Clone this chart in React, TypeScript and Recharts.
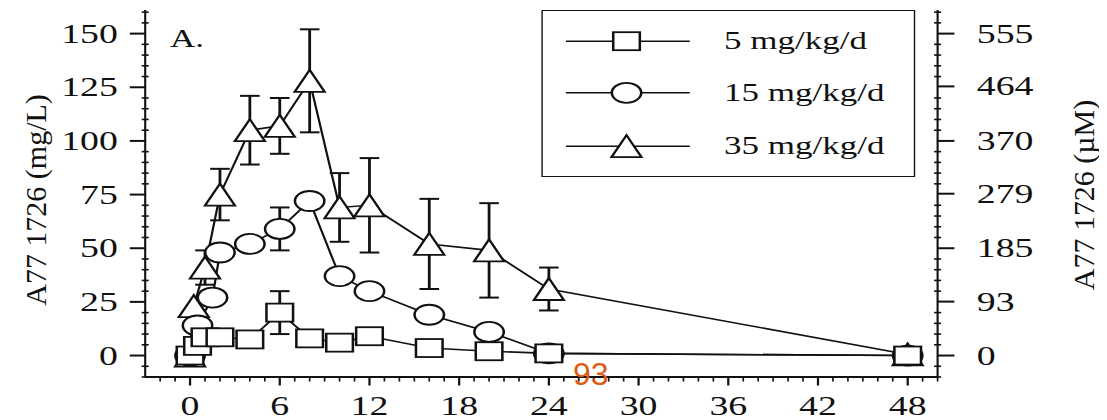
import React from 'react';
import { LineChart, Line, XAxis, YAxis, ErrorBar, Legend } from 'recharts';

// ---------- data ----------
const hours5 = [0, 0.5, 1, 2, 4, 6, 8, 10, 12, 16, 20, 24, 48];
const conc5 = [0, 4.5, 8.5, 8.5, 7.5, 20, 8, 6, 9, 3.5, 2, 1, 0];
const err5 = [0, 0, 0, 0, 0, 10, 0, 0, 0, 0, 0, 0, 0];

const hours15 = [0, 0.5, 1.5, 2, 4, 6, 8, 10, 12, 16, 20, 24, 48];
const conc15 = [0, 14, 27, 48, 52, 59, 72, 37, 30, 19, 11, 1, 0];
const err15 = [0, 0, 0, 0, 0, 10, 0, 0, 0, 0, 0, 0, 0];

const hours35 = [0, 0.25, 1, 2, 4, 6, 8, 10, 12, 16, 20, 24, 48];
const conc35 = [0, 23, 41, 75, 105, 107, 128, 69, 70, 52, 49, 31, 0.5];
const err35 = [0, 0, 8, 12, 16, 13, 24, 16, 22, 21, 22, 10, 0];

const seriesNames = ['5 mg/kg/d', '15 mg/kg/d', '35 mg/kg/d'];
const seriesShapes = ['square', 'circle', 'triangle'];

const xMajorTicks = [0, 6, 12, 18, 24, 30, 36, 42, 48];
const leftMajorTicks = [0, 25, 50, 75, 100, 125, 150];
const rightMajorTicks = [0, 93, 185, 279, 370, 464, 555];
const MG_TO_UM = 3.7;

const leftTitle = 'A77 1726 (mg/L)';
const rightTitle = 'A77 1726 (\u00b5M)';
const panelTag = 'A.';
const stray = '93';

// ---------- layout / style ----------
const SX = 1.4; // the reference figure is horizontally stretched
const W = 785;
const H = 412;
const INK = '#111';
const FONT = '"Liberation Serif", "Times New Roman", serif';
const X_DOMAIN: [number, number] = [-3, 50];
const Y_DOMAIN: [number, number] = [-10, 161];
const R_DOMAIN: [number, number] = [Y_DOMAIN[0] * MG_TO_UM, Y_DOMAIN[1] * MG_TO_UM];

const build = (h: number[], c: number[], e: number[]) =>
  h.map((t, i) => ({ t, c: c[i], e: e[i] }));
const data5 = build(hours5, conc5, err5);
const data15 = build(hours15, conc15, err15);
const data35 = build(hours35, conc35, err35);

const xAllTicks = Array.from({ length: 53 }, (_, i) => i - 2);
const leftAllTicks = Array.from({ length: 35 }, (_, i) => -10 + 5 * i);
const rightAllTicks = [
  ...Array.from({ length: 35 }, (_, i) => i - 2)
    .filter((k) => k % 5 !== 0)
    .map((k) => k * 5 * MG_TO_UM),
  ...rightMajorTicks,
].sort((a, b) => a - b);

// ---------- markers ----------
const markerStroke = 1.8;
const drawMarker = (shape: string, cx: number, cy: number, key?: any) => {
  if (shape === 'square')
    return (
      <rect key={key} x={cx - 9.5} y={cy - 9} width={19} height={18} fill="#fff" stroke={INK} strokeWidth={markerStroke} />
    );
  if (shape === 'circle')
    return <ellipse key={key} cx={cx} cy={cy} rx={10.5} ry={10} fill="#fff" stroke={INK} strokeWidth={markerStroke} />;
  return (
    <polygon
      key={key}
      points={`${cx},${cy - 11} ${cx - 10.7},${cy + 11} ${cx + 10.7},${cy + 11}`}
      fill="#fff"
      stroke={INK}
      strokeWidth={markerStroke}
      strokeLinejoin="miter"
    />
  );
};
const dotFor = (shape: string) => (p: any) => drawMarker(shape, p.cx, p.cy, `${shape}-${p.index}`);

// ---------- ticks ----------
const XTick = (p: any) => {
  const v = p.payload.value;
  const major = xMajorTicks.includes(v);
  return (
    <g>
      <line x1={p.x} x2={p.x} y1={p.y} y2={p.y + (major ? 8.5 : 4.5)} stroke={INK} strokeWidth={major ? 1.6 : 1.2} />
      {major && (
        <text x={p.x} y={p.y + 38.5} textAnchor="middle" fontSize={27} fontFamily={FONT} fill={INK}>
          {v}
        </text>
      )}
    </g>
  );
};

const LeftTick = (p: any) => {
  const v = p.payload.value;
  const major = leftMajorTicks.includes(v);
  return (
    <g>
      <line x1={p.x - (major ? 11 : 2.5)} x2={p.x + (major ? 0 : 2.5)} y1={p.y} y2={p.y} stroke={INK} strokeWidth={major ? 2 : 1.6} />
      {major && (
        <text x={p.x - 19.5} y={p.y + 9} textAnchor="end" fontSize={27} fontFamily={FONT} fill={INK}>
          {v}
        </text>
      )}
    </g>
  );
};

const RightTick = (p: any) => {
  const v = p.payload.value;
  const major = rightMajorTicks.includes(v);
  return (
    <g>
      <line x1={p.x - (major ? 0 : 2.5)} x2={p.x + (major ? 12 : 2.5)} y1={p.y} y2={p.y} stroke={INK} strokeWidth={major ? 2 : 1.6} />
      {major && (
        <text x={p.x + 28} y={p.y + 9} textAnchor="start" fontSize={27} fontFamily={FONT} fill={INK}>
          {v}
        </text>
      )}
    </g>
  );
};

// axis titles are drawn un-stretched (counter-scaled)
const titleRenderer = (text: string, cx: number, cy: number) => () =>
  (
    <text
      transform={`translate(${cx},${cy}) scale(${1 / SX},1) rotate(-90)`}
      textAnchor="middle"
      dominantBaseline="central"
      fontSize={30}
      fontFamily={FONT}
      fill={INK}
    >
      {text}
    </text>
  );

// ---------- legend ----------
const LegendBox = (props: any) => {
  const payload = (props.payload || []).slice().sort(
    (a: any, b: any) => seriesNames.indexOf(a.value) - seriesNames.indexOf(b.value)
  );
  const rows = [30.2, 81.8, 135.2];
  return (
    <div
      style={{
        width: 267,
        height: 167,
        border: `1.6px solid ${INK}`,
        boxSizing: 'border-box',
        background: '#fff',
        position: 'relative',
      }}
    >
      <svg width={264} height={164} style={{ position: 'absolute', left: 0, top: 0, overflow: 'visible' }}>
        {payload.map((entry: any, i: number) => {
          const y = rows[i];
          const shape = seriesShapes[seriesNames.indexOf(entry.value)];
          return (
            <g key={entry.value}>
              <line x1={16.5} x2={105} y1={y} y2={y} stroke={INK} strokeWidth={1.6} />
              {drawMarker(shape, 59.8, y)}
              <text x={129.5} y={y + 8.3} fontSize={25} fontFamily={FONT} fill={INK}>
                {entry.value}
              </text>
            </g>
          );
        })}
      </svg>
    </div>
  );
};

export default function App() {
  return (
    <div style={{ position: 'relative', width: W * SX, height: H, overflow: 'hidden', background: '#fff' }}>
      <div
        style={{
          position: 'absolute',
          left: 0,
          top: 0,
          width: W,
          height: H,
          transform: `scaleX(${SX})`,
          transformOrigin: '0 0',
        }}
      >
        <LineChart width={W} height={H} margin={{ top: 2, right: 0, bottom: 0, left: 0 }}>
          <XAxis
            type="number"
            dataKey="t"
            domain={X_DOMAIN}
            allowDataOverflow
            ticks={xAllTicks}
            interval={0}
            height={43}
            tickSize={0}
            tickMargin={0}
            tickLine={false}
            tick={<XTick />}
            axisLine={{ stroke: INK, strokeWidth: 2 }}
          />
          <YAxis
            yAxisId="left"
            type="number"
            domain={Y_DOMAIN}
            allowDataOverflow
            ticks={leftAllTicks}
            interval={0}
            width={98}
            tickSize={0}
            tickMargin={0}
            tickLine={false}
            tick={<LeftTick />}
            axisLine={{ stroke: INK, strokeWidth: 1.5 }}
            label={titleRenderer(leftTitle, 19.3, 192)}
          />
          <YAxis
            yAxisId="right"
            orientation="right"
            type="number"
            domain={R_DOMAIN}
            allowDataOverflow
            ticks={rightAllTicks}
            interval={0}
            width={121}
            tickSize={0}
            tickMargin={0}
            tickLine={false}
            tick={<RightTick />}
            axisLine={{ stroke: INK, strokeWidth: 1.5 }}
            label={titleRenderer(rightTitle, 767.9, 187)}
          />
          <Legend
            verticalAlign="middle"
            align="center"
            layout="horizontal"
            wrapperStyle={{ position: 'absolute', left: 381, top: 2, width: 267, height: 167 }}
            content={<LegendBox />}
          />
          <Line
            yAxisId="left"
            name={seriesNames[2]}
            data={data35}
            dataKey="c"
            stroke={INK}
            strokeWidth={1.6}
            dot={dotFor('triangle')}
            activeDot={false}
            isAnimationActive={false}
          >
            <ErrorBar dataKey="e" direction="y" width={7} stroke={INK} strokeWidth={2} isAnimationActive={false} />
          </Line>
          <Line
            yAxisId="left"
            name={seriesNames[1]}
            data={data15}
            dataKey="c"
            stroke={INK}
            strokeWidth={1.6}
            dot={dotFor('circle')}
            activeDot={false}
            isAnimationActive={false}
          >
            <ErrorBar dataKey="e" direction="y" width={7} stroke={INK} strokeWidth={2} isAnimationActive={false} />
          </Line>
          <Line
            yAxisId="left"
            name={seriesNames[0]}
            data={data5}
            dataKey="c"
            stroke={INK}
            strokeWidth={1.6}
            dot={dotFor('square')}
            activeDot={false}
            isAnimationActive={false}
          >
            <ErrorBar dataKey="e" direction="y" width={7} stroke={INK} strokeWidth={2} isAnimationActive={false} />
          </Line>
        </LineChart>
        <div
          style={{
            position: 'absolute',
            left: 115.7,
            top: 18,
            fontSize: 25,
            lineHeight: '25px',
            fontFamily: FONT,
            color: INK,
          }}
        >
          {panelTag}
        </div>
      </div>
      <div
        style={{
          position: 'absolute',
          left: 565,
          top: 350,
          fontSize: 32,
          lineHeight: '32px',
          fontFamily: '"Liberation Sans", Arial, sans-serif',
          color: '#dc5a14',
        }}
      >
        {stray}
      </div>
    </div>
  );
}
